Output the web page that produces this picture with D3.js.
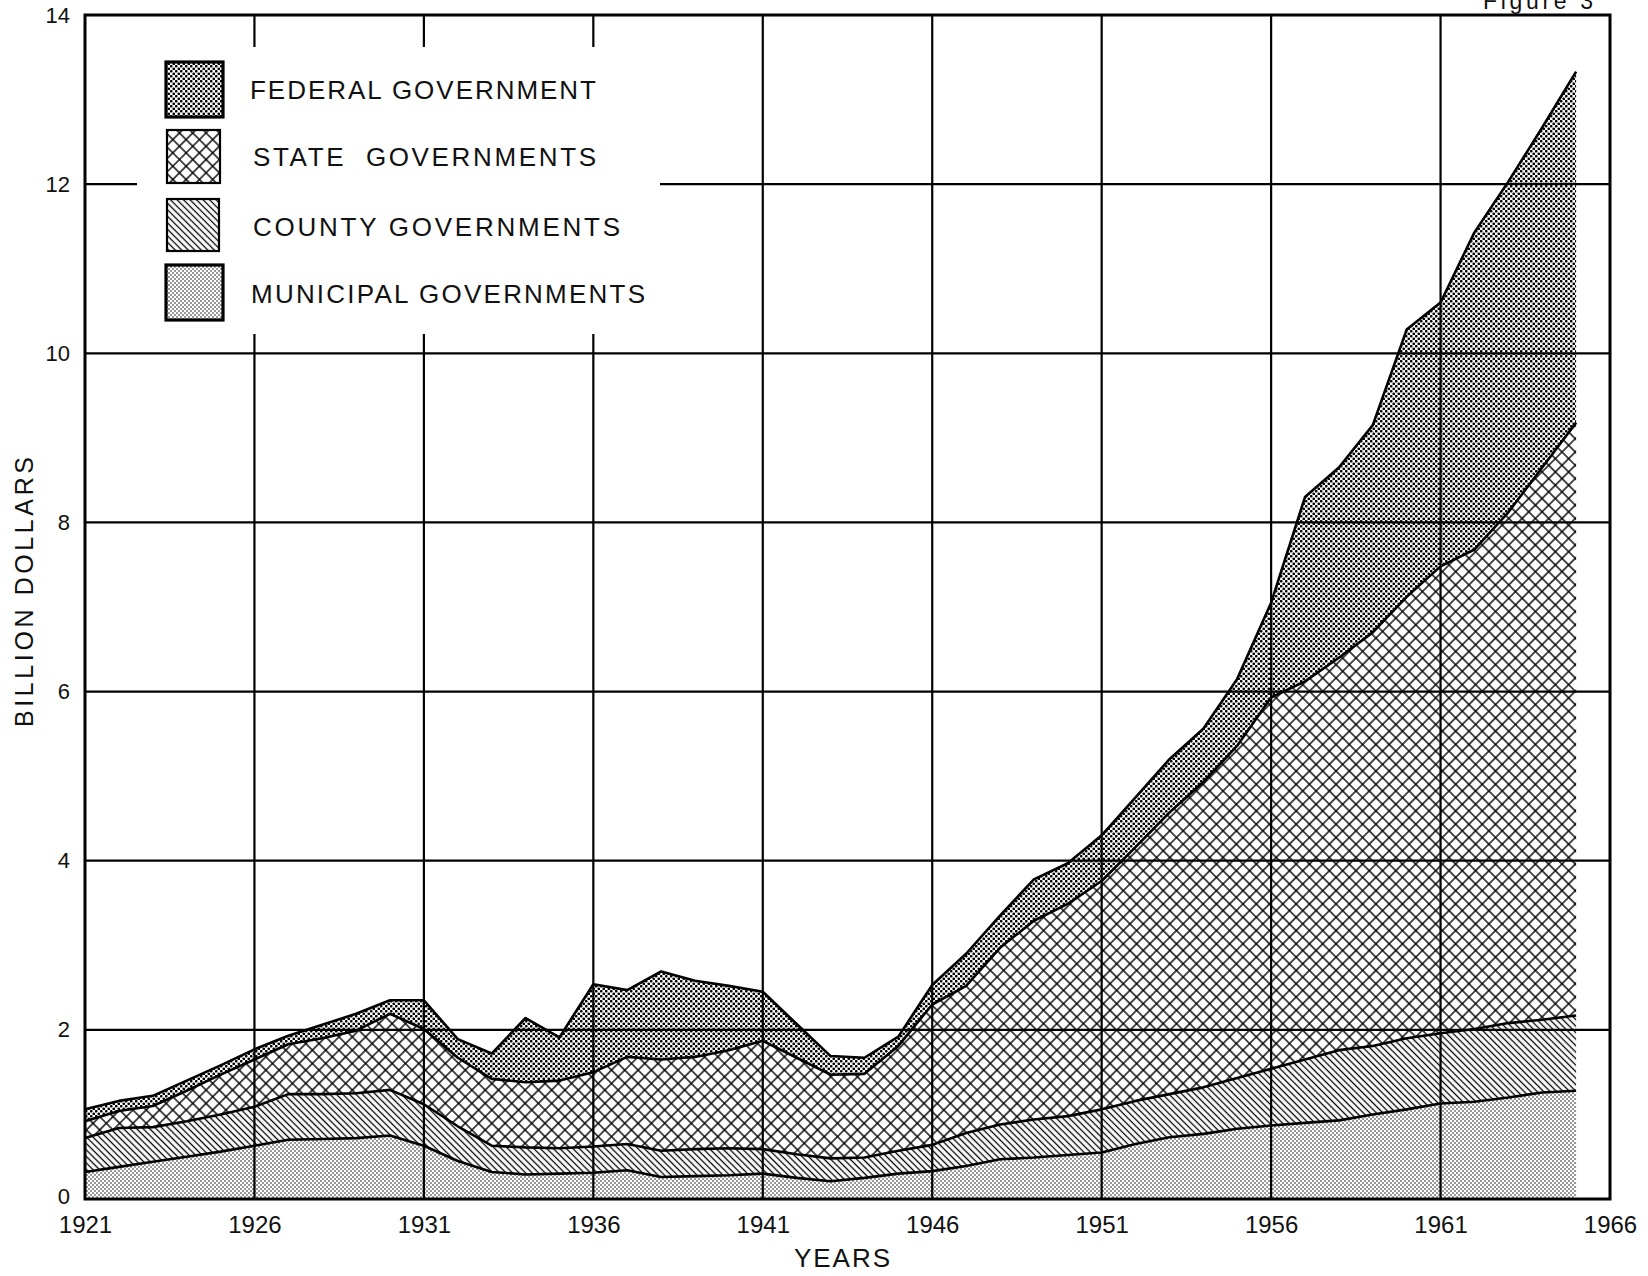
<!DOCTYPE html>
<html>
<head>
<meta charset="utf-8">
<script src="https://cdn.jsdelivr.net/npm/d3@7"></script>
<style>
  html, body { margin: 0; padding: 0; background: #fff; }
  svg { display: block; }
  text { font-family: "Liberation Sans", Arial, sans-serif; fill: #111; }
</style>
</head>
<body>
<svg id="chart" width="1648" height="1276"></svg>
<script>
// ---------- data (billion dollars) ----------
const years = d3.range(1921, 1966);
const municipal = [0.32,0.38,0.44,0.50,0.56,0.63,0.70,0.71,0.72,0.75,0.63,0.45,0.32,0.29,0.30,0.31,0.34,0.26,0.27,0.28,0.30,0.25,0.21,0.25,0.30,0.33,0.39,0.47,0.49,0.52,0.55,0.65,0.73,0.77,0.83,0.87,0.90,0.93,1.00,1.06,1.13,1.15,1.20,1.26,1.28];
const county    = [0.40,0.46,0.41,0.42,0.44,0.46,0.54,0.53,0.53,0.54,0.49,0.41,0.31,0.32,0.30,0.31,0.31,0.31,0.32,0.32,0.29,0.28,0.27,0.24,0.27,0.31,0.39,0.41,0.45,0.46,0.51,0.51,0.51,0.55,0.60,0.67,0.75,0.83,0.81,0.84,0.83,0.86,0.88,0.86,0.89];
const state     = [0.20,0.20,0.25,0.36,0.47,0.56,0.59,0.66,0.74,0.90,0.89,0.81,0.79,0.77,0.80,0.88,1.03,1.08,1.09,1.16,1.28,1.14,0.99,0.99,1.24,1.66,1.74,2.09,2.35,2.51,2.70,3.00,3.33,3.61,3.93,4.39,4.47,4.64,4.89,5.22,5.52,5.67,6.04,6.53,7.01];
const federal   = [0.14,0.12,0.12,0.12,0.11,0.12,0.10,0.16,0.20,0.16,0.34,0.22,0.30,0.76,0.51,1.04,0.79,1.04,0.90,0.76,0.58,0.40,0.22,0.19,0.11,0.23,0.38,0.38,0.49,0.48,0.54,0.59,0.63,0.63,0.79,1.12,2.18,2.25,2.45,3.16,3.12,3.75,3.91,4.02,4.15];

const seriesKeys   = ["municipal", "county", "state", "federal"];
const legendLabels = ["FEDERAL GOVERNMENT", "STATE  GOVERNMENTS", "COUNTY GOVERNMENTS", "MUNICIPAL GOVERNMENTS"];
const legendKeys   = ["federal", "state", "county", "municipal"];
const xTicks = [1921, 1926, 1931, 1936, 1941, 1946, 1951, 1956, 1961, 1966];
const yTicks = [0, 2, 4, 6, 8, 10, 12, 14];

// ---------- layout ----------
const L = 85, R = 1610, T = 15, B = 1199;
const svg = d3.select("#chart");
const x = d3.scaleLinear().domain([1921, 1966]).range([L, R]);
const y = d3.scaleLinear().domain([0, 14]).range([B, T]);

// ---------- patterns ----------
const defs = svg.append("defs");
// federal: dense dark dots
{
  const p = defs.append("pattern").attr("id", "p-federal").attr("patternUnits", "userSpaceOnUse")
    .attr("width", 5).attr("height", 5);
  p.append("rect").attr("width", 5).attr("height", 5).attr("fill", "#fff");
  p.append("circle").attr("cx", 1.25).attr("cy", 1.25).attr("r", 1.35).attr("fill", "#000");
  p.append("circle").attr("cx", 3.75).attr("cy", 3.75).attr("r", 1.35).attr("fill", "#000");
}
// municipal: fine light dots
{
  const p = defs.append("pattern").attr("id", "p-municipal").attr("patternUnits", "userSpaceOnUse")
    .attr("width", 4).attr("height", 4);
  p.append("rect").attr("width", 4).attr("height", 4).attr("fill", "#fff");
  p.append("circle").attr("cx", 1).attr("cy", 1).attr("r", 0.75).attr("fill", "#000");
  p.append("circle").attr("cx", 3).attr("cy", 3).attr("r", 0.75).attr("fill", "#000");
}
// county: dense diagonal hatching "\\\"
{
  const s = 4.6;
  const p = defs.append("pattern").attr("id", "p-county").attr("patternUnits", "userSpaceOnUse")
    .attr("width", s).attr("height", s).attr("patternTransform", "rotate(-45)");
  p.append("rect").attr("width", s).attr("height", s).attr("fill", "#fff");
  p.append("line").attr("x1", s / 2).attr("y1", 0).attr("x2", s / 2).attr("y2", s)
    .attr("stroke", "#000").attr("stroke-width", 1.3);
}
// state: diamond crosshatch
{
  const s = 9.4;
  const p = defs.append("pattern").attr("id", "p-state").attr("patternUnits", "userSpaceOnUse")
    .attr("width", s).attr("height", s).attr("patternTransform", "rotate(45)");
  p.append("rect").attr("width", s).attr("height", s).attr("fill", "#fff");
  p.append("line").attr("x1", s / 2).attr("y1", 0).attr("x2", s / 2).attr("y2", s)
    .attr("stroke", "#000").attr("stroke-width", 1.4);
  p.append("line").attr("x1", 0).attr("y1", s / 2).attr("x2", s).attr("y2", s / 2)
    .attr("stroke", "#000").attr("stroke-width", 1.4);
}

// ---------- stacked areas ----------
const table = years.map((yr, i) => ({
  year: yr, municipal: municipal[i], county: county[i], state: state[i], federal: federal[i]
}));
const stack = d3.stack().keys(seriesKeys);
const layers = stack(table);

const area = d3.area()
  .x(d => x(d.data.year))
  .y0(d => y(d[0]))
  .y1(d => y(d[1]))
  .curve(d3.curveLinear);

svg.append("g").selectAll("path").data(layers).join("path")
  .attr("d", area)
  .attr("fill", d => `url(#p-${d.key})`)
  .attr("stroke", "none");

// ---------- gridlines ----------
const grid = svg.append("g").attr("stroke", "#000").attr("stroke-width", 2.2);
grid.selectAll("line.h").data(yTicks.filter(v => v > 0 && v < 14)).join("line")
  .attr("x1", L).attr("x2", R).attr("y1", d => y(d)).attr("y2", d => y(d));
grid.selectAll("line.v").data(xTicks.filter(v => v > 1921 && v < 1966)).join("line")
  .attr("y1", T).attr("y2", B).attr("x1", d => x(d)).attr("x2", d => x(d));

// ---------- boundary lines ----------
const topLine = d3.line().x(d => x(d.data.year)).y(d => y(d[1])).curve(d3.curveLinear);
svg.append("g").selectAll("path").data(layers).join("path")
  .attr("d", topLine)
  .attr("fill", "none").attr("stroke", "#000").attr("stroke-width", 2.6)
  .attr("stroke-linejoin", "round");

// ---------- legend ----------
svg.append("rect").attr("x", 137).attr("y", 47).attr("width", 523).attr("height", 287).attr("fill", "#fff");
const swatches = [
  { x: 166, y: 62, w: 57, h: 55, sw: 3.2 },
  { x: 167, y: 130, w: 53, h: 53, sw: 2.2 },
  { x: 167, y: 199, w: 52, h: 52, sw: 2.2 },
  { x: 166, y: 265, w: 57, h: 55, sw: 3.2 }
];
const textPos = [
  { x: 250, y: 99, len: 346 },
  { x: 253, y: 166, len: 343 },
  { x: 253, y: 236, len: 367 },
  { x: 251, y: 303, len: 394 }
];
const lg = svg.append("g");
legendKeys.forEach((k, i) => {
  const s = swatches[i];
  lg.append("rect").attr("x", s.x).attr("y", s.y).attr("width", s.w).attr("height", s.h)
    .attr("fill", `url(#p-${k})`).attr("stroke", "#000").attr("stroke-width", s.sw);
  const t = textPos[i];
  lg.append("text").attr("x", t.x).attr("y", t.y)
    .attr("font-size", 26)
    .attr("textLength", t.len).attr("lengthAdjust", "spacing")
    .attr("xml:space", "preserve")
    .text(legendLabels[i]);
});

// ---------- frame ----------
svg.append("rect").attr("x", L).attr("y", T).attr("width", R - L).attr("height", B - T)
  .attr("fill", "none").attr("stroke", "#000").attr("stroke-width", 3);

// ---------- axes (labels only) ----------
const yAxis = d3.axisLeft(y).tickValues(yTicks).tickSize(0).tickPadding(15).tickFormat(d3.format("d"));
const gy = svg.append("g").attr("transform", `translate(${L},0)`).call(yAxis);
gy.select(".domain").remove();
gy.selectAll("text").attr("font-size", 22).attr("fill", "#111")
  .attr("font-family", "Liberation Sans, Arial, sans-serif");
gy.selectAll(".tick").filter(d => d === 0).select("text").attr("dy", "0.2em");

const xAxis = d3.axisBottom(x).tickValues(xTicks).tickSize(0).tickPadding(17).tickFormat(d3.format("d"));
const gx = svg.append("g").attr("transform", `translate(0,${B})`).call(xAxis);
gx.select(".domain").remove();
gx.selectAll("text").attr("font-size", 24).attr("fill", "#111")
  .attr("font-family", "Liberation Sans, Arial, sans-serif");

// ---------- titles ----------
svg.append("text").attr("x", 842).attr("y", 1267).attr("text-anchor", "middle")
  .attr("font-size", 26).attr("textLength", 96).attr("lengthAdjust", "spacing").text("YEARS");
svg.append("text").attr("transform", "translate(33,592) rotate(-90)").attr("text-anchor", "middle")
  .attr("font-size", 25).attr("textLength", 270).attr("lengthAdjust", "spacing").text("BILLION DOLLARS");
svg.append("text").attr("x", 1483).attr("y", 9)
  .attr("font-family", "Liberation Mono, Courier New, monospace").attr("font-size", 23)
  .attr("textLength", 110).attr("lengthAdjust", "spacing").text("Figure 3");
</script>
</body>
</html>
